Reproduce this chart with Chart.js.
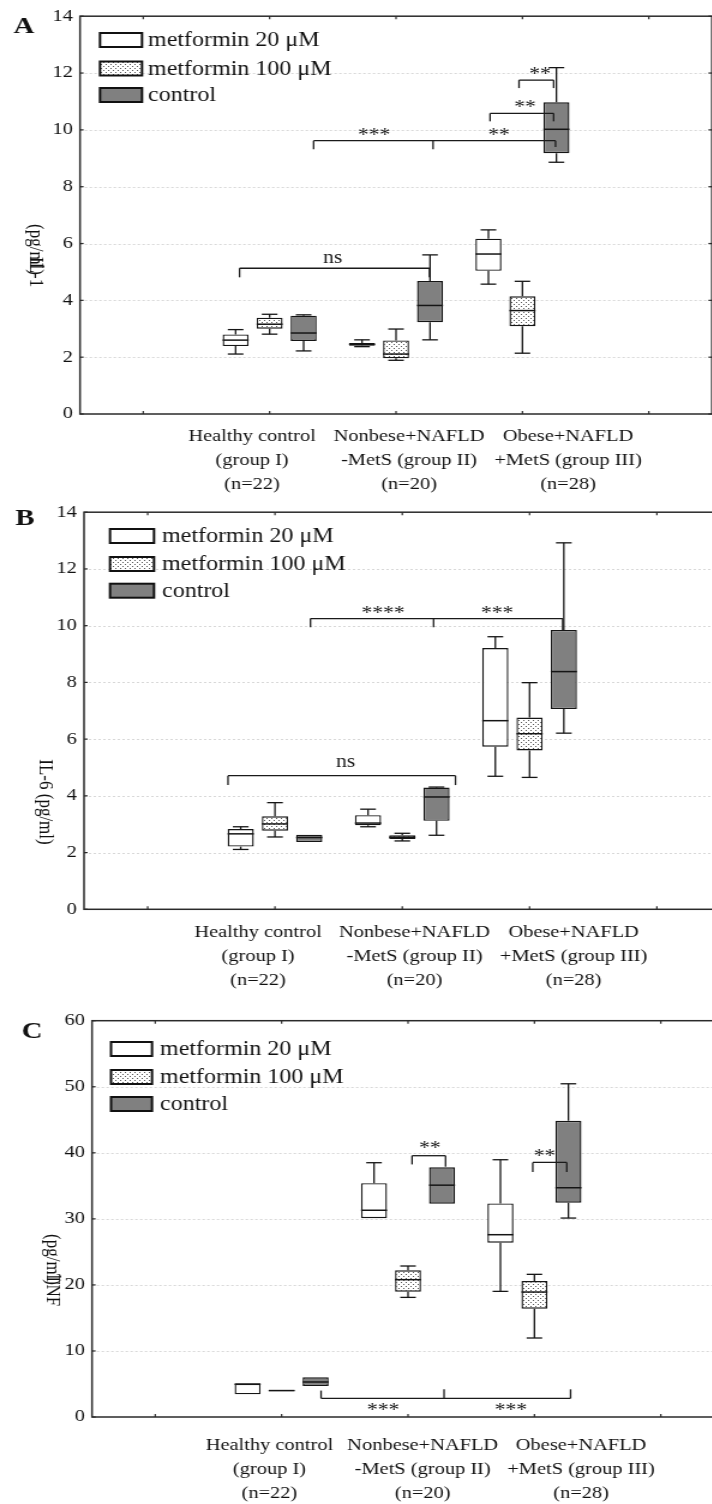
<!DOCTYPE html>
<html><head><meta charset="utf-8">
<script src="https://cdn.jsdelivr.net/npm/chart.js@4.4.1/dist/chart.umd.min.js"></script>
<style>
html,body{margin:0;padding:0;background:#fff;overflow:hidden;width:712px;height:1504px;position:relative;}
.panel{position:absolute;left:0;transform:scaleX(1.2);transform-origin:0 0;}
canvas{display:block;}
</style></head><body>
<div class="panel" style="top:0px"><canvas id="cA" width="610" height="496"></canvas></div>
<div class="panel" style="top:496px"><canvas id="cB" width="610" height="500"></canvas></div>
<div class="panel" style="top:996px"><canvas id="cC" width="610" height="508"></canvas></div>
<script>
const FONT = '"Liberation Serif", "Times New Roman", "DejaVu Serif", serif';
const SX = 1.2;

const groupLabels = [
  ['Healthy control', '(group I)', '(n=22)'],
  ['Nonbese+NAFLD', '-MetS (group II)', '(n=20)'],
  ['Obese+NAFLD', '+MetS (group III)', '(n=28)']
];
const seriesNames = ['metformin 20 \u03BCM', 'metformin 100 \u03BCM', 'control'];
const slotLabels = ['', 'group I', 'group II', 'group III', ''];

// each entry: [whisker min, Q1, median, Q3, whisker max] for groups I, II, III
const il1_met20  = [[2.11, 2.39, 2.60, 2.80, 2.97], [2.37, 2.40, 2.45, 2.50, 2.61], [4.57, 5.04, 5.63, 6.17, 6.48]];
const il1_met100 = [[2.81, 3.00, 3.16, 3.39, 3.51], [1.89, 1.96, 2.11, 2.59, 2.99], [2.14, 3.09, 3.64, 4.14, 4.67]];
const il1_ctrl   = [[2.22, 2.57, 2.85, 3.46, 3.49], [2.61, 3.23, 3.82, 4.68, 5.60], [8.86, 9.18, 10.02, 10.97, 12.19]];

const il6_met20  = [[2.11, 2.21, 2.66, 2.83, 2.91], [2.91, 2.96, 3.04, 3.32, 3.53], [4.69, 5.73, 6.65, 9.21, 9.61]];
const il6_met100 = [[2.55, 2.77, 3.01, 3.28, 3.76], [2.41, 2.48, 2.54, 2.61, 2.68], [4.65, 5.60, 6.19, 6.76, 7.99]];
const il6_ctrl   = [[2.37, 2.37, 2.53, 2.63, 2.63], [2.61, 3.12, 3.96, 4.29, 4.31], [6.21, 7.06, 8.38, 9.85, 12.92]];

const tnf_met20  = [[3.44, 3.44, 4.95, 5.10, 5.10], [30.1, 30.1, 31.3, 35.4, 38.5], [19.02, 26.39, 27.6, 32.34, 38.95]];
const tnf_met100 = [[3.90, 3.90, 4.00, 4.10, 4.10], [18.11, 18.97, 20.79, 22.2, 22.86], [11.96, 16.4, 18.92, 20.59, 21.6]];
const tnf_ctrl   = [[4.69, 4.69, 5.30, 6.01, 6.01], [32.3, 32.3, 35.1, 37.8, 37.8], [30.12, 32.44, 34.71, 44.85, 50.45]];

const il1Ticks = [0, 2, 4, 6, 8, 10, 12, 14];
const il6Ticks = [0, 2, 4, 6, 8, 10, 12, 14];
const tnfTicks = [0, 10, 20, 30, 40, 50, 60];

// significance brackets: horizontal line at value y from slot position `from` to `to`, legs [slot, end value]
const il1Brackets = [
  {from: 0.762, to: 2.265, y: 5.13, legs: [[0.762, 4.81], [2.265, 4.81]]},
  {from: 1.348, to: 3.262, y: 9.62, legs: [[1.348, 9.32], [2.293, 9.32], [3.262, 9.40]]},
  {from: 2.744, to: 3.247, y: 10.58, legs: [[2.744, 10.30], [3.247, 10.30]]},
  {from: 2.973, to: 3.247, y: 11.75, legs: [[2.973, 11.47], [3.247, 11.47]]}
];
const il1Marks = [
  {text: 'ns', x: 1.50, y: 5.30}, {text: '***', x: 1.826, y: 9.62}, {text: '**', x: 2.815, y: 9.62},
  {text: '**', x: 3.02, y: 10.58}, {text: '**', x: 3.14, y: 11.75}
];
const il6Brackets = [
  {from: 1.279, to: 3.260, y: 10.25, legs: [[1.279, 9.94], [2.246, 9.94], [3.260, 9.85]]},
  {from: 0.631, to: 2.418, y: 4.71, legs: [[0.631, 4.38], [2.418, 4.38]]}
];
const il6Marks = [
  {text: '****', x: 1.849, y: 10.25}, {text: '***', x: 2.744, y: 10.25}, {text: 'ns', x: 1.554, y: 5.00}
];
const tnfBrackets = [
  {from: 2.032, to: 2.297, y: 39.56, legs: [[2.032, 38.24], [2.297, 37.9]]},
  {from: 2.987, to: 3.256, y: 38.55, legs: [[2.987, 37.1], [3.256, 37.1]]},
  {from: 1.312, to: 3.286, y: 2.83, legs: [[1.312, 4.0], [2.285, 4.19], [3.286, 4.19]]}
];
const tnfMarks = [
  {text: '**', x: 2.174, y: 39.8}, {text: '**', x: 3.080, y: 38.55},
  {text: '***', x: 1.802, y: 0.1}, {text: '***', x: 2.815, y: 0.1}
];

function seg(ctx, x1, y1, x2, y2) { ctx.beginPath(); ctx.moveTo(x1, y1); ctx.lineTo(x2, y2); ctx.stroke(); }

function makeExtras(p, fills) {
  return {
    id: 'boxExtras',
    beforeDatasetsDraw(chart) {
      const {ctx, chartArea: a, scales: {y}} = chart;
      ctx.save();
      ctx.strokeStyle = '#cfcfcf'; ctx.lineWidth = 0.8; ctx.setLineDash([2, 2]);
      p.yTicks.forEach((v, i) => {
        if (i === 0 || i === p.yTicks.length - 1) return;
        const py = Math.round(y.getPixelForValue(v)) + 0.5;
        seg(ctx, a.left, py, a.right, py);
      });
      ctx.setLineDash([]);
      ctx.strokeStyle = '#151515'; ctx.lineWidth = 1.3;
      p.series.forEach((ser, di) => {
        const meta = chart.getDatasetMeta(di);
        ser.forEach((st, gi) => {
          const el = meta.data[gi + 1]; if (!el) return;
          const cx = el.x, hw = el.width * 0.3;
          const pMin = y.getPixelForValue(st[0]), pQ1 = y.getPixelForValue(st[1]);
          const pQ3 = y.getPixelForValue(st[3]), pMax = y.getPixelForValue(st[4]);
          if (st[4] > st[3]) { seg(ctx, cx, pQ3, cx, pMax); seg(ctx, cx - hw, pMax, cx + hw, pMax); }
          if (st[0] < st[1]) { seg(ctx, cx, pQ1, cx, pMin); seg(ctx, cx - hw, pMin, cx + hw, pMin); }
        });
      });
      ctx.restore();
    },
    afterDatasetsDraw(chart) {
      const {ctx, chartArea: a, scales: {x, y}} = chart;
      ctx.save();
      // medians
      ctx.strokeStyle = '#151515'; ctx.lineWidth = 1.5;
      p.series.forEach((ser, di) => {
        const meta = chart.getDatasetMeta(di);
        ser.forEach((st, gi) => {
          const el = meta.data[gi + 1]; if (!el) return;
          const pm = y.getPixelForValue(st[2]);
          seg(ctx, el.x - el.width / 2, pm, el.x + el.width / 2, pm);
        });
      });
      // frame
      ctx.strokeStyle = '#2a2a2a'; ctx.lineWidth = 1.5;
      ctx.strokeRect(a.left, a.top, a.right - a.left, a.bottom - a.top);
      // inner tick marks
      ctx.lineWidth = 1.2;
      p.yTicks.forEach(v => {
        const py = y.getPixelForValue(v);
        seg(ctx, a.left, py, a.left + 3, py);
        seg(ctx, a.right - 3, py, a.right, py);
      });
      for (let i = 0; i < slotLabels.length; i++) {
        const px = x.getPixelForValue(i);
        seg(ctx, px, a.bottom, px, a.bottom - 3);
        seg(ctx, px, a.top, px, a.top + 3);
      }
      // brackets
      ctx.strokeStyle = '#1a1a1a'; ctx.lineWidth = 1.3;
      p.brackets.forEach(b => {
        const py = y.getPixelForValue(b.y);
        seg(ctx, x.getPixelForValue(b.from), py, x.getPixelForValue(b.to), py);
        b.legs.forEach(l => {
          const lx = x.getPixelForValue(l[0]);
          seg(ctx, lx, py, lx, y.getPixelForValue(l[1]));
        });
      });
      ctx.fillStyle = '#1a1a1a';
      ctx.font = '18px ' + FONT; ctx.textAlign = 'center'; ctx.textBaseline = 'alphabetic';
      p.marks.forEach(m => ctx.fillText(m.text, x.getPixelForValue(m.x), y.getPixelForValue(m.y)));
      // legend
      const lg = p.legend;
      seriesNames.forEach((name, k) => {
        const cy = lg.rows[k];
        ctx.fillStyle = fills[k];
        ctx.fillRect(lg.bx / SX, cy - 7, lg.bw / SX, 14);
        ctx.strokeStyle = '#111'; ctx.lineWidth = 2;
        ctx.strokeRect(lg.bx / SX, cy - 7, lg.bw / SX, 14);
        ctx.fillStyle = '#111'; ctx.font = '20px ' + FONT;
        ctx.textAlign = 'left'; ctx.textBaseline = 'middle';
        ctx.fillText(name, lg.tx / SX, cy + 1);
      });
      // axis title pieces (rotated, reading downward)
      ctx.font = '17px ' + FONT; ctx.fillStyle = '#111';
      p.titles.forEach(t => {
        ctx.save();
        ctx.translate(t.x / SX, t.y);
        ctx.rotate(Math.PI / 2);
        ctx.textAlign = t.align || 'left'; ctx.textBaseline = 'middle';
        ctx.fillText(t.text, 0, 0);
        ctx.restore();
      });
      // panel letter
      ctx.font = 'bold 24px ' + FONT; ctx.textAlign = 'center'; ctx.textBaseline = 'middle';
      ctx.fillText(p.letter.text, p.letter.x / SX, p.letter.y);
      ctx.restore();
    }
  };
}

function makePanel(id, p) {
  const canvas = document.getElementById(id);
  const ctx = canvas.getContext('2d');
  const pc = document.createElement('canvas'); pc.width = 4; pc.height = 4;
  const pctx = pc.getContext('2d');
  pctx.fillStyle = '#ffffff'; pctx.fillRect(0, 0, 4, 4);
  pctx.fillStyle = '#555555'; pctx.fillRect(0, 0, 1, 1); pctx.fillRect(2, 2, 1, 1);
  const dots = ctx.createPattern(pc, 'repeat');
  const fills = ['#ffffff', dots, '#808080'];
  const datasets = p.series.map((ser, k) => ({
    label: seriesNames[k],
    data: [null, ...ser.map(g => [g[1], g[3]]), null],
    backgroundColor: fills[k], borderColor: '#151515', borderWidth: 1.4, borderSkipped: false,
    categoryPercentage: 0.807, barPercentage: 0.765, xAxisID: 'x', yAxisID: 'y'
  }));
  const H = canvas.height;
  new Chart(ctx, {
    type: 'bar',
    data: {labels: slotLabels, datasets},
    options: {
      responsive: false, animation: false, devicePixelRatio: 1,
      layout: {padding: {top: p.top, right: canvas.width - p.right / SX, left: 0, bottom: 0}},
      plugins: {legend: {display: false}, tooltip: {enabled: false}},
      scales: {
        x: {type: 'category', display: false, offset: true, grid: {display: false}},
        xl: {
          type: 'linear', position: 'bottom', min: -0.5, max: 4.5, offset: false,
          grid: {display: false, drawTicks: false, offset: false}, border: {display: false},
          afterBuildTicks: s => { s.ticks = p.labelPos.map(v => ({value: v})); },
          afterFit: s => { s.height = H - p.bottom; },
          ticks: {autoSkip: false, maxRotation: 0, minRotation: 0, padding: p.labelPad, color: '#111',
                  font: {family: FONT, size: 17, lineHeight: '24px'},
                  callback: (v, i) => groupLabels[i]}
        },
        y: {
          type: 'linear', position: 'left', min: p.yTicks[0], max: p.yTicks[p.yTicks.length - 1], offset: false,
          afterBuildTicks: s => { s.ticks = p.yTicks.map(v => ({value: v})); },
          afterFit: s => { s.width = p.left / SX; },
          grid: {display: false, drawTicks: false}, border: {display: false},
          ticks: {padding: 6, color: '#111', font: {family: FONT, size: 17}}
        }
      }
    },
    plugins: [makeExtras(p, fills)]
  });
}

makePanel('cA', {
  series: [il1_met20, il1_met100, il1_ctrl], yTicks: il1Ticks,
  brackets: il1Brackets, marks: il1Marks,
  left: 80, right: 712, top: 12.3, bottom: 414, labelPad: 11,
  labelPos: [0.861, 2.103, 3.361],
  legend: {bx: 100, bw: 42, tx: 148, rows: [40, 68.5, 95]},
  titles: [{text: '(pg/ml)', x: 35, y: 224}, {text: 'IL-1', x: 35, y: 257}],
  letter: {text: 'A', x: 24, y: 27}
});
makePanel('cB', {
  series: [il6_met20, il6_met100, il6_ctrl], yTicks: il6Ticks,
  brackets: il6Brackets, marks: il6Marks,
  left: 84, right: 720.5, top: 12.3, bottom: 413.3, labelPad: 11.7,
  labelPos: [0.867, 2.096, 3.346],
  legend: {bx: 110, bw: 44, tx: 162, rows: [40, 68, 94.7]},
  titles: [{text: 'IL-6 (pg/ml)', x: 45, y: 306, align: 'center'}],
  letter: {text: 'B', x: 25, y: 22.5}
});
makePanel('cC', {
  series: [tnf_met20, tnf_met100, tnf_ctrl], yTicks: tnfTicks,
  brackets: tnfBrackets, marks: tnfMarks,
  left: 92, right: 724, top: 24.7, bottom: 421, labelPad: 16.7,
  labelPos: [0.904, 2.116, 3.369],
  legend: {bx: 111, bw: 41, tx: 160, rows: [53, 81, 108]},
  titles: [{text: '(pg/ml)', x: 52, y: 238}, {text: 'TNF', x: 52, y: 278}],
  letter: {text: 'C', x: 32, y: 36}
});
</script>
</body></html>
